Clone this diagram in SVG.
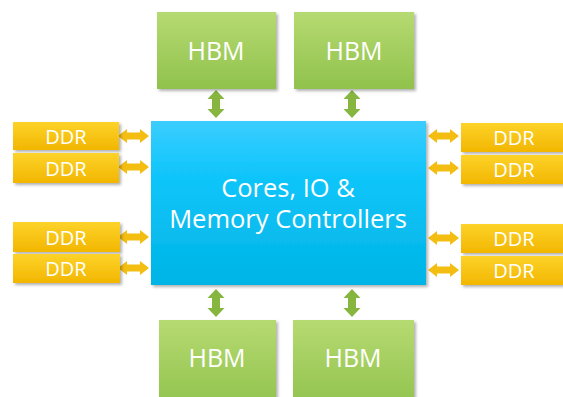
<svg xmlns="http://www.w3.org/2000/svg" width="563" height="397" viewBox="0 0 563 397">
<style>
.lbl{font-family:"Open Sans","Liberation Sans",sans-serif;fill:#fff;text-anchor:middle}
.hbm{fill:url(#gG);filter:url(#sh)}
.ddr{fill:url(#gY);filter:url(#sh)}
.ga{fill:#86b640}
.ya{fill:#f4bd12}
</style>
<defs>
<linearGradient id="gG" x1="0" y1="0" x2="0" y2="1"><stop offset="0" stop-color="#b6da72"/><stop offset="1" stop-color="#90c24c"/></linearGradient>
<linearGradient id="gY" x1="0" y1="0" x2="0" y2="1"><stop offset="0" stop-color="#fdd32a"/><stop offset="1" stop-color="#f2b600"/></linearGradient>
<linearGradient id="gB" x1="0" y1="0" x2="0" y2="1"><stop offset="0" stop-color="#3ccdff"/><stop offset="0.3" stop-color="#12c6fb"/><stop offset="1" stop-color="#00b4e6"/></linearGradient>
<filter id="sh" x="-10%" y="-10%" width="125%" height="130%"><feDropShadow dx="2" dy="2" stdDeviation="1.5" flood-color="#000" flood-opacity="0.3"/></filter>
<path id="va" d="M0,0 l-8.5,9 h4.5 v10 h-4.5 l8.5,9 l8.5,-9 h-4.5 v-10 h4.5 z"/>
<path id="ha" d="M0,0 l9,-7 v3.5 h13 v-3.5 l9,7 l-9,7 v-3.5 h-13 v3.5 z"/>
</defs>
<g id="connectors">
<use href="#va" class="ga" x="216" y="90"/>
<use href="#va" class="ga" x="352" y="90"/>
<use href="#va" class="ga" x="216" y="289"/>
<use href="#va" class="ga" x="352" y="289"/>
<use href="#ha" class="ya" x="118" y="136"/>
<use href="#ha" class="ya" x="118" y="167"/>
<use href="#ha" class="ya" x="118" y="237"/>
<use href="#ha" class="ya" x="118" y="268"/>
<use href="#ha" class="ya" x="428" y="136"/>
<use href="#ha" class="ya" x="428" y="168"/>
<use href="#ha" class="ya" x="428" y="238"/>
<use href="#ha" class="ya" x="428" y="270"/>
</g>
<g id="core">
<rect x="151" y="121" width="275" height="164" fill="url(#gB)" filter="url(#sh)"/>
<text class="lbl" x="288" y="197" font-size="25.5">Cores, IO &amp;</text>
<text class="lbl" x="288" y="228" font-size="25.5">Memory Controllers</text>
</g>
<g id="hbm1"><rect class="hbm" x="157" y="12" width="119" height="77"/><text class="lbl" x="216" y="60" font-size="25">HBM</text></g>
<g id="hbm2"><rect class="hbm" x="294" y="12" width="120" height="77"/><text class="lbl" x="354" y="60" font-size="25">HBM</text></g>
<g id="hbm3"><rect class="hbm" x="159" y="320" width="117" height="90"/><text class="lbl" x="217" y="367" font-size="25">HBM</text></g>
<g id="hbm4"><rect class="hbm" x="293" y="320" width="121" height="90"/><text class="lbl" x="353" y="367" font-size="25">HBM</text></g>
<g id="ddrL1"><rect class="ddr" x="13" y="122" width="106" height="28"/><text class="lbl" x="66" y="143.5" font-size="20">DDR</text></g>
<g id="ddrL2"><rect class="ddr" x="13" y="153" width="106" height="30"/><text class="lbl" x="66" y="175.5" font-size="20">DDR</text></g>
<g id="ddrL3"><rect class="ddr" x="13" y="222" width="107" height="30"/><text class="lbl" x="66" y="244.5" font-size="20">DDR</text></g>
<g id="ddrL4"><rect class="ddr" x="13" y="254" width="107" height="29"/><text class="lbl" x="66" y="275.5" font-size="20">DDR</text></g>
<g id="ddrR1"><rect class="ddr" x="461" y="123" width="110" height="29"/><text class="lbl" x="514" y="145" font-size="20">DDR</text></g>
<g id="ddrR2"><rect class="ddr" x="461" y="155" width="110" height="29"/><text class="lbl" x="514" y="177" font-size="20">DDR</text></g>
<g id="ddrR3"><rect class="ddr" x="461" y="224" width="110" height="29"/><text class="lbl" x="514" y="246" font-size="20">DDR</text></g>
<g id="ddrR4"><rect class="ddr" x="461" y="256" width="110" height="29"/><text class="lbl" x="514" y="278" font-size="20">DDR</text></g>
</svg>
